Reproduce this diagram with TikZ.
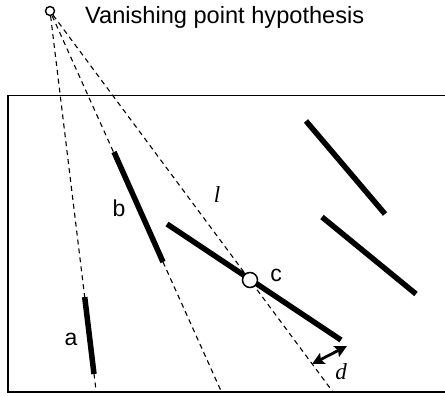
\documentclass[tikz,border=0pt]{standalone}
\usepackage{fontspec}
\setmainfont{Liberation Sans}
\newfontfamily\serifit{Liberation Serif}
\usetikzlibrary{arrows.meta}
\begin{document}
\begin{tikzpicture}[x=1pt,y=-1pt,
  guide/.style={draw=black,line width=1.1pt,dash pattern=on 5pt off 4pt},
  seg/.style={draw=black,line width=5.5pt},
  lbl/.style={inner sep=0pt,font=\fontsize{23}{27}\selectfont},
  ital/.style={inner sep=0pt,font=\serifit\itshape\fontsize{23}{27}\selectfont}]
\useasboundingbox (0,0) rectangle (445,396);
% frame
\draw[line width=1.5pt] (8,95.5) rectangle (447,392);
% vanishing point
\node[circle,draw,line width=1.4pt,fill=white,minimum size=9pt,inner sep=0pt] (vp) at (50,11) {};
\node[anchor=base west,inner sep=0pt,font=\fontsize{23.6}{28}\selectfont] (title) at (85,24) {Vanishing point hypothesis};
% guide lines
\coordinate (ga) at (96.2,392);
\coordinate (gb) at (221.5,392);
\coordinate (gl) at (333,392);
\draw[guide] (vp) -- (ga);
\draw[guide] (vp) -- (gb);
\draw[guide] (vp) -- (gl);
% segments
\coordinate (a1) at (84.7,297); \coordinate (a2) at (94,374);
\coordinate (b1) at (114,152); \coordinate (b2) at (163,262);
\coordinate (c1) at (167,224); \coordinate (c2) at (341,340);
\coordinate (e1) at (306,121); \coordinate (e2) at (385,214);
\coordinate (f1) at (322,217); \coordinate (f2) at (416,294);
\draw[seg] (a1) -- (a2);
\draw[seg] (b1) -- (b2);
\draw[seg] (c1) -- (c2);
\draw[seg] (e1) -- (e2);
\draw[seg] (f1) -- (f2);
\node[circle,draw,line width=1.5pt,fill=white,minimum size=15pt,inner sep=0pt] (cc) at (250,280) {};
% labels
\node[lbl] (la) at (71,339) {a};
\node[lbl] (lb) at (119,208) {b};
\node[lbl] (lc) at (276,275) {c};
\node[ital] (ll) at (217,195) {l};
\node[ital] (ld) at (341,372) {d};
% distance arrow
\coordinate (d1) at (312,364);
\coordinate (d2) at (347,346);
\draw[line width=2.8pt,{Stealth[length=12pt,width=12pt,inset=2pt]}-{Stealth[length=12pt,width=12pt,inset=2pt]}] (d1) -- (d2);
\end{tikzpicture}
\end{document}
